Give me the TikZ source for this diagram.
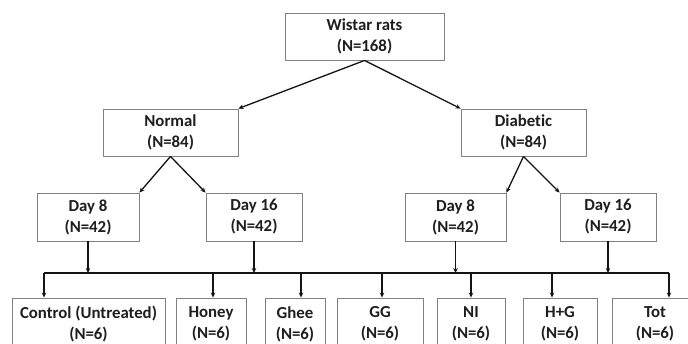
\documentclass[tikz,border=0pt]{standalone}
\usepackage{fontspec}
\setmainfont{Carlito}[Ligatures=NoCommon]
\usepackage{tikz}
\usetikzlibrary{arrows.meta, positioning, calc}
\definecolor{ratBorder}{RGB}{128, 128, 128}
\definecolor{ratText}{RGB}{30, 30, 30}
\definecolor{ratLine}{RGB}{20, 20, 20}

\begin{document}
\begin{tikzpicture}[
      x=1pt, y=-1pt,
      box/.style = {
        draw=ratBorder, line width=0.9pt, fill=white,
        minimum height=47pt, inner sep=0pt,
        align=center, text=ratText,
        font=\fontsize{16.8}{21}\selectfont\bfseries
      },
      arrow/.style = {-{Stealth[length=5pt, width=4.5pt]}, line width=1.3pt, ratLine},
      bus/.style   = {line width=1.3pt, ratLine},
    ]
    \useasboundingbox (0,0) rectangle (688,343);
    %% ── Nodos ──────────────────────────────────────────────────
    \node (wistar)   [box, minimum width=159pt] at (364.5,36.5) {Wistar rats\\(N=168)};
    \node (normal)   [box, minimum width=135pt] at (170.5,132.5) {Normal\\(N=84)};
    \node (diabetic) [box, minimum width=125pt] at (523.5,132.5) {Diabetic\\(N=84)};
    \node (nday8)    [box, minimum width=102pt, minimum height=48pt] at (88,217) {Day 8\\(N=42)};
    \node (nday16)   [box, minimum width=96pt,  minimum height=48pt] at (254,217) {Day 16\\(N=42)};
    \node (dday8)    [box, minimum width=101pt, minimum height=48pt] at (455.5,217) {Day 8\\(N=42)};
    \node (dday16)   [box, minimum width=96pt,  minimum height=48pt] at (608,217) {Day 16\\(N=42)};
    %% ── Grupos de tratamiento ──────────────────────────────────
    \node (control) [box, minimum width=153pt, minimum height=52pt] at (88.5,324) {Control (Untreated)\\(N=6)};
    \node (honey)   [box, minimum width=70pt,  minimum height=52pt] at (211,324) {Honey\\(N=6)};
    \node (ghee)    [box, minimum width=60pt,  minimum height=52pt] at (295,324) {Ghee\\(N=6)};
    \node (gg)      [box, minimum width=86pt,  minimum height=52pt] at (380,324) {GG\\(N=6)};
    \node (ni)      [box, minimum width=68pt,  minimum height=52pt] at (471,324) {NI\\(N=6)};
    \node (hg)      [box, minimum width=74pt,  minimum height=52pt] at (560,324) {H+G\\(N=6)};
    \node (tot)     [box, minimum width=86pt,  minimum height=52pt] at (655,324) {Tot\\(N=6)};
    %% ── Flechas ────────────────────────────────────────────────
    \draw[arrow] (wistar.south) -- (normal.north east);
    \draw[arrow] (wistar.south) -- (diabetic.north west);
    \draw[arrow] (normal.south) -- (nday8.north east);
    \draw[arrow] (normal.south) -- (nday16.north west);
    \draw[arrow] (diabetic.south) -- (dday8.north east);
    \draw[arrow] (diabetic.south) -- (dday16.north west);
    %% ── Barra común ────────────────────────────────────────────
    \coordinate (b1) at (44,273);
    \coordinate (b2) at (213,273);
    \coordinate (b3) at (301,273);
    \coordinate (b4) at (382,273);
    \coordinate (b5) at (471,273);
    \coordinate (b6) at (552,273);
    \coordinate (b7) at (669,273);
    \draw[bus] (b1) -- (b7);
    \draw[arrow] (nday8.south)  -- (nday8.south |- b1);
    \draw[arrow] (nday16.south) -- (nday16.south |- b1);
    \draw[arrow] (dday8.south)  -- (dday8.south |- b1);
    \draw[arrow] (dday16.south) -- (dday16.south |- b1);
    \draw[arrow] (b1) -- (b1 |- control.north);
    \draw[arrow] (b2) -- (b2 |- honey.north);
    \draw[arrow] (b3) -- (b3 |- ghee.north);
    \draw[arrow] (b4) -- (b4 |- gg.north);
    \draw[arrow] (b5) -- (b5 |- ni.north);
    \draw[arrow] (b6) -- (b6 |- hg.north);
    \draw[arrow] (b7) -- (b7 |- tot.north);
  \end{tikzpicture}
\end{document}
